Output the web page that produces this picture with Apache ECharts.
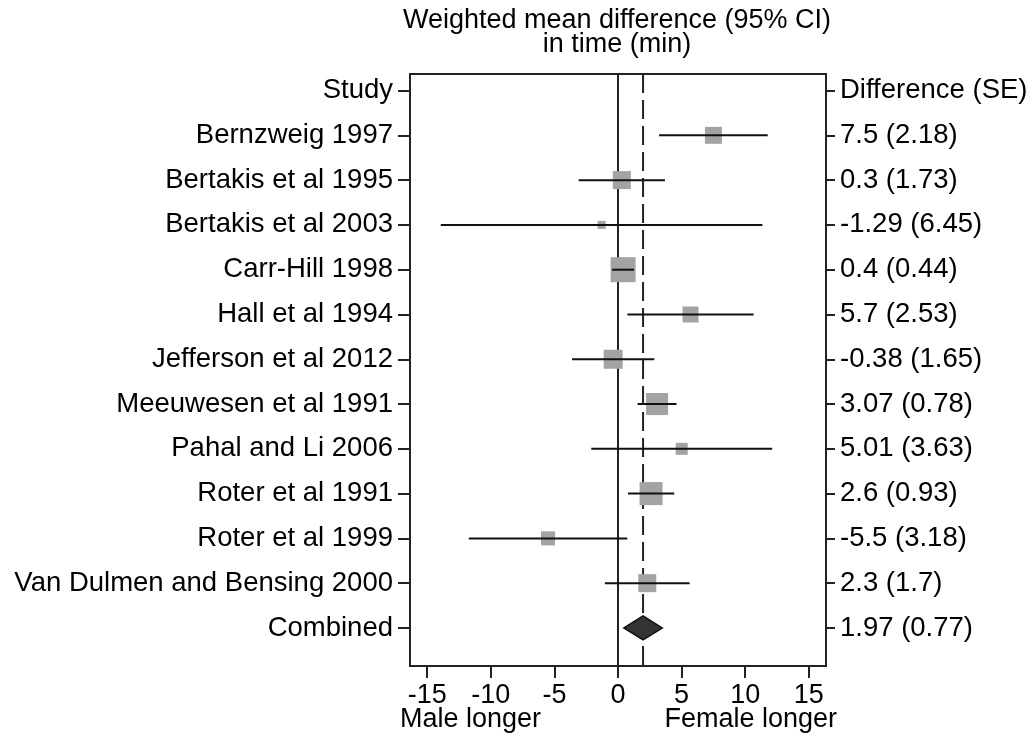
<!DOCTYPE html>
<html>
<head>
<meta charset="utf-8">
<script src="https://cdn.jsdelivr.net/npm/echarts@6/dist/echarts.min.js"></script>
<style>
html,body{margin:0;padding:0;background:#fff;}
#chart{width:1033px;height:740px;}
</style>
</head>
<body>
<div id="chart"></div>
<script>
// ---- data ----
const rowLabels = ['Study','Bernzweig 1997','Bertakis et al 1995','Bertakis et al 2003','Carr-Hill 1998','Hall et al 1994','Jefferson et al 2012','Meeuwesen et al 1991','Pahal and Li 2006','Roter et al 1991','Roter et al 1999','Van Dulmen and Bensing 2000','Combined'];
const rightLabels = ['Difference (SE)','7.5 (2.18)','0.3 (1.73)','-1.29 (6.45)','0.4 (0.44)','5.7 (2.53)','-0.38 (1.65)','3.07 (0.78)','5.01 (3.63)','2.6 (0.93)','-5.5 (3.18)','2.3 (1.7)','1.97 (0.77)'];
const estimates = [7.5, 0.3, -1.29, 0.4, 5.7, -0.38, 3.07, 5.01, 2.6, -5.5, 2.3];
const lowerCI = [3.23, -3.09, -13.93, -0.46, 0.74, -3.61, 1.54, -2.10, 0.78, -11.73, -1.03];
const upperCI = [11.77, 3.69, 11.35, 1.26, 10.66, 2.85, 4.60, 12.12, 4.42, 0.73, 5.63];
const weights = [8.0, 9.0, 1.8, 17.4, 7.1, 10.0, 13.5, 4.0, 14.7, 5.5, 9.0]; // % (box area)
const pooled = {est: 1.97, lower: 0.46, upper: 3.48};
const xTicks = [-15, -10, -5, 0, 5, 10, 15];
const refLines = [0, 1.97];

// ---- chart ----
const FONT = '"Liberation Sans", Arial, sans-serif';
const FS = 27;
const FSY = 27.5;
const rowIdx = rowLabels.map((_, i) => i);
const yMin = -0.37, yMax = 12.85;

const studyPts = estimates.map((e, i) => [e, i + 1, weights[i]]);
const ciData = estimates.map((e, i) => [lowerCI[i], upperCI[i], i + 1]);
const combinedRow = rowLabels.length - 1;

const chart = echarts.init(document.getElementById('chart'), null, {renderer: 'canvas'});
chart.setOption({
  animation: false,
  backgroundColor: '#fff',
  textStyle: {fontFamily: FONT},
  grid: {left: 410, right: 207, top: 74, bottom: 74, show: true, borderColor: '#222', borderWidth: 2, backgroundColor: 'transparent'},
  xAxis: {
    type: 'value', min: -16.35, max: 16.35,
    splitLine: {show: false},
    axisLine: {show: true, onZero: false, lineStyle: {color: '#222', width: 2}},
    axisTick: {show: true, length: 12, lineStyle: {color: '#222', width: 2}, customValues: xTicks},
    axisLabel: {color: '#000', fontSize: FS, fontFamily: FONT, margin: 16, customValues: xTicks, formatter: v => String(v)}
  },
  yAxis: [
    {
      type: 'value', inverse: true, min: yMin, max: yMax, position: 'left',
      splitLine: {show: false},
      axisLine: {show: true, onZero: false, lineStyle: {color: '#222', width: 2}},
      axisTick: {show: true, length: 12, lineStyle: {color: '#222', width: 2}, customValues: rowIdx},
      axisLabel: {color: '#000', fontSize: FSY, fontFamily: FONT, margin: 17, customValues: rowIdx, formatter: v => rowLabels[Math.round(v)]}
    },
    {
      type: 'value', inverse: true, min: yMin, max: yMax, position: 'right',
      splitLine: {show: false},
      axisLine: {show: true, onZero: false, lineStyle: {color: '#222', width: 2}},
      axisTick: {show: true, length: 9, lineStyle: {color: '#222', width: 2}, customValues: rowIdx},
      axisLabel: {color: '#000', fontSize: FSY, fontFamily: FONT, margin: 14, customValues: rowIdx, formatter: v => rightLabels[Math.round(v)]}
    }
  ],
  graphic: [
    {type: 'text', x: 617, y: 21, style: {text: 'Weighted mean difference (95% CI)', font: FS + 'px ' + FONT, fill: '#000', align: 'center', verticalAlign: 'middle'}},
    {type: 'text', x: 617, y: 45, style: {text: 'in time (min)', font: FS + 'px ' + FONT, fill: '#000', align: 'center', verticalAlign: 'middle'}},
    {type: 'text', x: 400, y: 720, style: {text: 'Male longer', font: FS + 'px ' + FONT, fill: '#000', align: 'left', verticalAlign: 'middle'}},
    {type: 'text', x: 837, y: 720, style: {text: 'Female longer', font: FS + 'px ' + FONT, fill: '#000', align: 'right', verticalAlign: 'middle'}}
  ],
  series: [
    {
      type: 'custom', name: 'ref', z: 1, silent: true,
      data: refLines.map((v, i) => [v, i]),
      encode: {x: 0},
      renderItem: function (params, api) {
        const cs = params.coordSys;
        const x = api.coord([api.value(0), 0])[0];
        const dashed = api.value(1) === 1;
        return {
          type: 'line',
          shape: {x1: x, y1: cs.y, x2: x, y2: cs.y + cs.height},
          style: {stroke: '#222', lineWidth: 2, lineDash: dashed ? [19, 7] : null}
        };
      }
    },
    {
      type: 'scatter', name: 'studies', z: 2, silent: true,
      data: studyPts,
      symbol: 'rect',
      symbolSize: d => Math.sqrt(d[2]) * 6,
      itemStyle: {color: '#a3a3a3', opacity: 1}
    },
    {
      type: 'custom', name: 'ci', z: 3, silent: true,
      data: ciData,
      encode: {x: [0, 1], y: 2},
      renderItem: function (params, api) {
        const p1 = api.coord([api.value(0), api.value(2)]);
        const p2 = api.coord([api.value(1), api.value(2)]);
        return {type: 'line', shape: {x1: p1[0], y1: p1[1], x2: p2[0], y2: p2[1]}, style: {stroke: '#111', lineWidth: 2}};
      }
    },
    {
      type: 'custom', name: 'combined', z: 4, silent: true,
      data: [[pooled.lower, pooled.est, pooled.upper, combinedRow]],
      encode: {x: [0, 1, 2], y: 3},
      renderItem: function (params, api) {
        const y = api.value(3);
        const l = api.coord([api.value(0), y]);
        const c = api.coord([api.value(1), y]);
        const r = api.coord([api.value(2), y]);
        const h = 12;
        return {
          type: 'polygon',
          shape: {points: [[l[0], l[1]], [c[0], c[1] - h], [r[0], r[1]], [c[0], c[1] + h]]},
          style: {fill: '#333', stroke: '#111', lineWidth: 1.5}
        };
      }
    }
  ]
});
</script>
</body>
</html>
